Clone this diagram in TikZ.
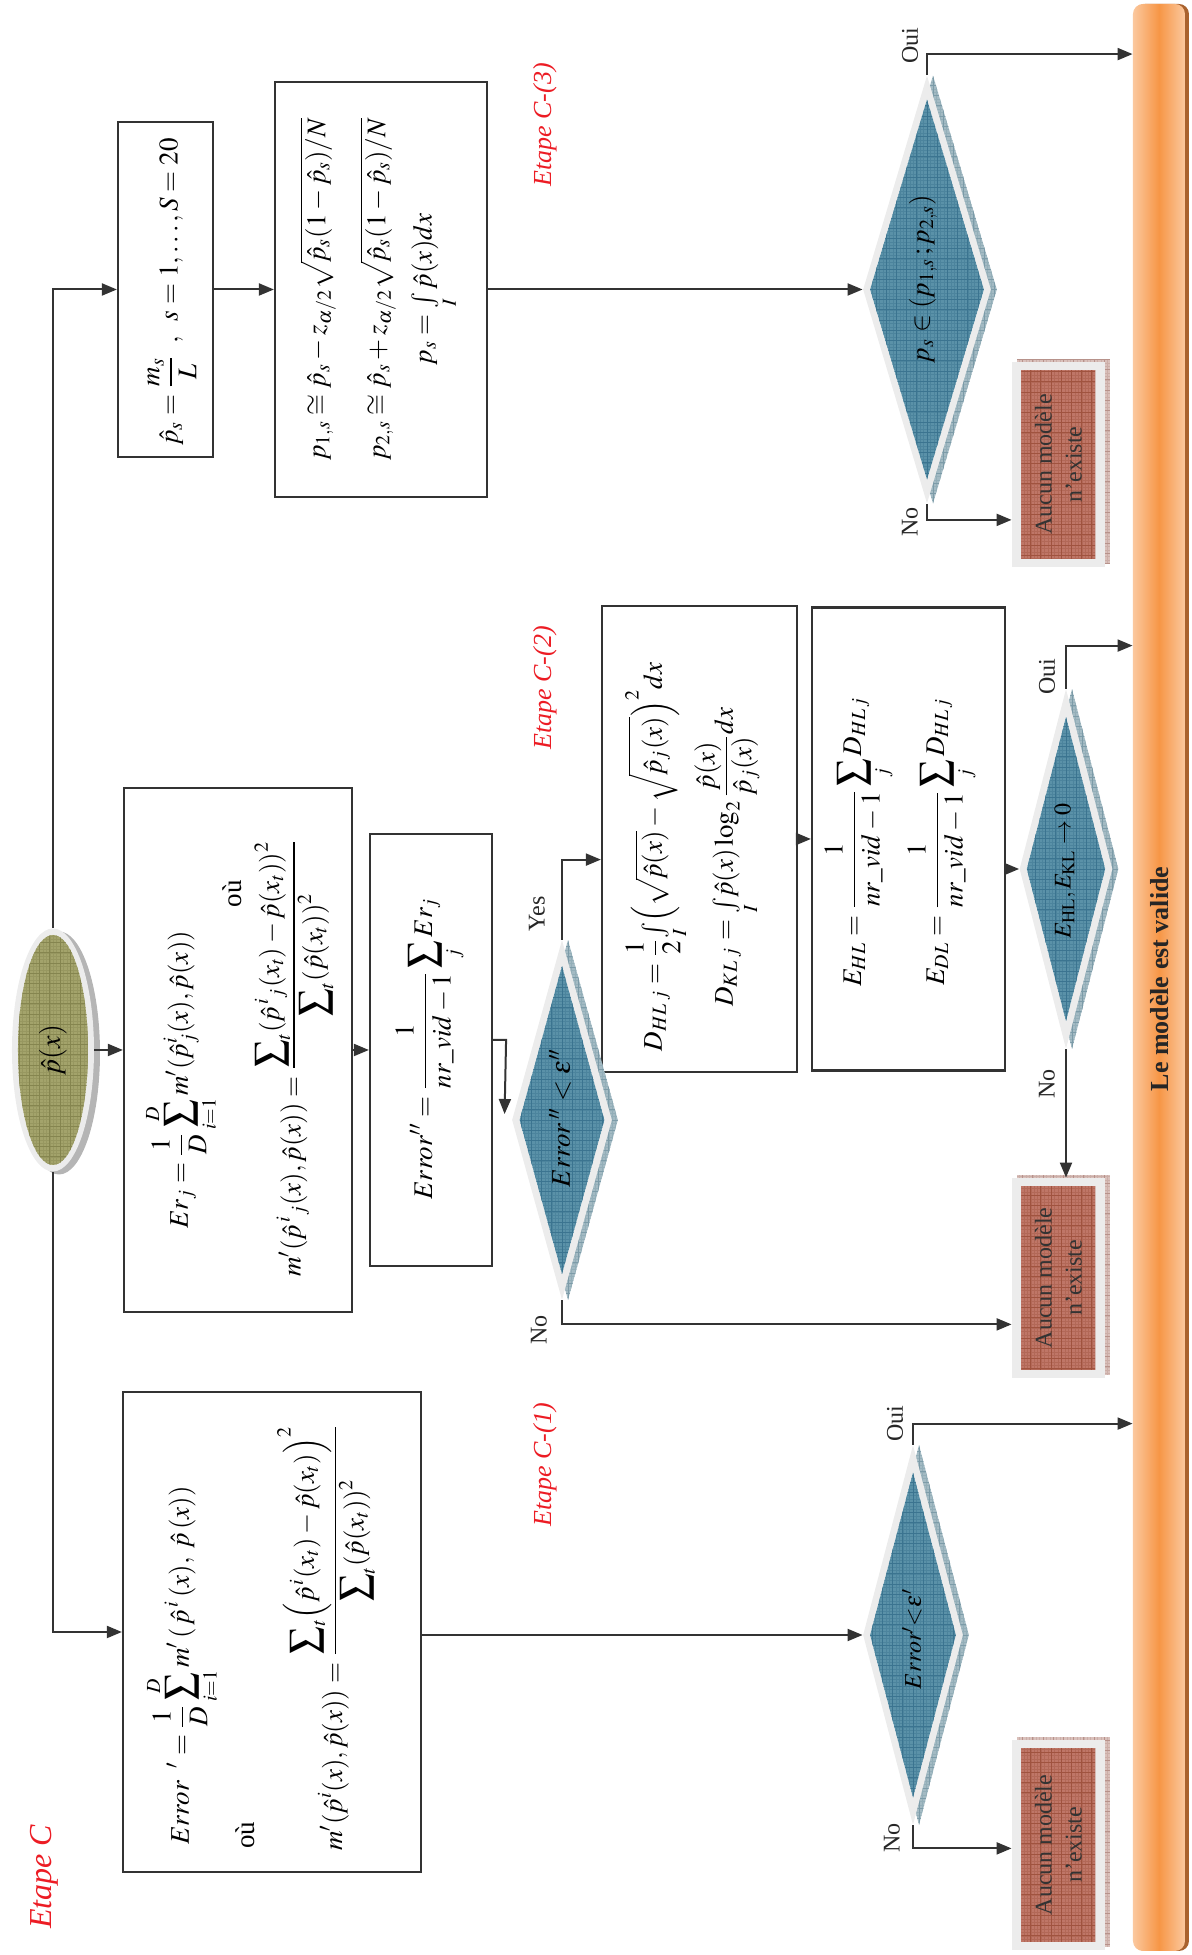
\documentclass[tikz,border=0pt]{standalone}
\usepackage{amsmath}
\usepackage{mathptmx}
\usepackage[no-math]{fontspec}
\setmainfont{Liberation Serif}
\usetikzlibrary{shapes.geometric,arrows.meta,calc}

\definecolor{ink}{HTML}{333333}
\definecolor{rimgray}{HTML}{ECECEC}
\definecolor{diablue}{HTML}{5A91A8}
\definecolor{diagrid}{HTML}{3B7490}
\definecolor{diashade}{HTML}{A3BAC3}
\definecolor{diashadeline}{HTML}{7C9BA8}
\definecolor{boxred}{HTML}{BF7667}
\definecolor{redgrid}{HTML}{A0533F}
\definecolor{redshade}{HTML}{D9C0BB}
\definecolor{redshadeline}{HTML}{B7928B}
\definecolor{olivefill}{HTML}{A3A36B}
\definecolor{olivegrid}{HTML}{85854F}
\definecolor{ellshadow}{HTML}{B5B5B5}
\definecolor{barorange}{HTML}{F79646}
\definecolor{barlight}{HTML}{FBC89E}
\definecolor{barbrown}{HTML}{A9622E}
\definecolor{etred}{HTML}{EC1C24}

% textured fill: fine grid under a coarser grid
\newcommand\hatchgrid[2]{%
  \draw[#2,line width=0.2pt] (path picture bounding box.south west) grid[step=1.7pt] (path picture bounding box.north east);
  \draw[#1,line width=0.45pt] (path picture bounding box.south west) grid[step=5.1pt] (path picture bounding box.north east);}

\tikzset{
  conn/.style={draw=ink,line width=1pt},
  arr/.style={conn,-{Triangle[length=7.5pt,width=6pt]}},
  formbox/.style={rectangle,draw=ink,line width=1.1pt,fill=white,inner sep=0pt},
  eq/.style={inner sep=0pt,font=\fontsize{13.5}{16}\selectfont},
  ans/.style={inner sep=0pt,text=black!85,font=\fontsize{12}{14}\selectfont},
  etape/.style={inner sep=0pt,text=etred,font=\fontsize{13}{16}\selectfont\itshape},
  rim/.style={fill=rimgray,draw=none,inner sep=0pt},
  dshadow/.style={diamond,fill=diashade,inner sep=0pt,path picture={\hatchgrid{diashadeline}{diashadeline!40!diashade}}},
  dcore/.style={diamond,fill=diablue,inner sep=0pt,path picture={\hatchgrid{diagrid}{diagrid!45!diablue}}},
  rshadow/.style={rectangle,fill=redshade,inner sep=0pt,path picture={\hatchgrid{redshadeline}{redshadeline!40!redshade}}},
  rcore/.style={rectangle,fill=boxred,inner sep=0pt,align=center,text=black!80,
    font=\fontsize{12}{15}\selectfont,path picture={\hatchgrid{redgrid}{redgrid!40!boxred}}},
}

\begin{document}
\begin{tikzpicture}[x=0.5pt,y=0.5pt]
\useasboundingbox (-1192,0) rectangle (0,1955);

% validation bar
\node[fill=barbrown,rounded corners=5pt,inner sep=0pt,minimum width=27pt,minimum height=973.5pt] (barback) at (-30,977.5) {};
\node[rounded corners=5pt,inner sep=0pt,left color=barlight,right color=barlight,middle color=barorange,
  minimum width=26pt,minimum height=973.5pt] (bar) at (-33,977.5) {};
\node[rotate=90,inner sep=0pt,text=black!85,font=\bfseries\fontsize{13}{15}\selectfont] (valid) at (-32,976) {Le modèle est valide};

\begin{scope}[rotate=90,transform shape]

% start node
\node[ellipse,fill=ellshadow,inner sep=0pt,minimum width=121.5pt,minimum height=41pt] (ellsh) at (902,1133) {};
\node[ellipse,rim,minimum width=121.5pt,minimum height=41pt] (ell) at (905,1139) {};
\node[ellipse,fill=olivefill,inner sep=0pt,minimum width=115pt,minimum height=35pt,
  path picture={\hatchgrid{olivegrid}{olivegrid!40!olivefill}},font=\fontsize{14}{16}\selectfont] (ellt) at (ell) {$\hat{p}(x)$};

% formula boxes
\node[formbox,minimum width=167.5pt,minimum height=47.5pt] (ps) at (1665.5,1026.5) {};
\node[formbox,minimum width=207.5pt,minimum height=106pt] (p1) at (1665.5,811) {};
\node[formbox,minimum width=240pt,minimum height=149pt] (c1) at (323,920) {};
\node[formbox,minimum width=262pt,minimum height=114pt] (erj) at (905,954) {};
\node[formbox,minimum width=216pt,minimum height=61pt] (err2) at (905,761) {};
\node[formbox,minimum width=233pt,minimum height=97.5pt] (dhl) at (1116,492.5) {};
\node[formbox,minimum width=231.5pt,minimum height=96.5pt] (ehl) at (1116,283.5) {};

\node[eq] (pst) at (1663,1020) {$\hat{p}_s=\dfrac{m_s}{L}\;\;,\;\;s=1,\ldots,S=20$};
\node[eq] (p1a) at (1665.5,874) {$p_{1,s}\cong\hat{p}_s-z_{\alpha/2}\sqrt{\hat{p}_s(1-\hat{p}_s)/N}$};
\node[eq] (p1b) at (1665.5,814) {$p_{2,s}\cong\hat{p}_s+z_{\alpha/2}\sqrt{\hat{p}_s(1-\hat{p}_s)/N}$};
\node[eq] (p1c) at (1665.5,757) {$p_s=\int\limits_{I}\hat{p}(x)dx$};

\node[eq,anchor=west] (c1a) at (110,1010) {$\displaystyle Error\;\;{}'=\frac{1}{D}\sum_{i=1}^{D}m'\,(\,\hat{p}^{\,i}\,(x),\;\hat{p}\,(x))$};
\node[eq,anchor=west] (c1b) at (106,947) {où};
\node[eq,anchor=west] (c1c) at (104,866) {$\displaystyle m'(\hat{p}^{i}(x),\hat{p}(x))=\frac{\displaystyle\sum\nolimits_t\Bigl(\hat{p}^{\,i}(x_t)-\hat{p}(x_t)\Bigr)^2}{\displaystyle\sum\nolimits_t(\hat{p}(x_t))^2}$};

\node[eq] (erja) at (875,1011) {$\displaystyle Er_j=\frac{1}{D}\sum_{i=1}^{D}m'(\hat{p}^{i}_{j}(x),\hat{p}(x))$};
\node[eq] (erjb) at (1061,960) {où};
\node[eq] (erjc) at (897,898) {$\displaystyle m'(\hat{p}^{\,i}{}_{j}(x),\hat{p}(x))=\frac{\displaystyle\sum\nolimits_t(\hat{p}^{\,i}{}_{j}(x_t)-\hat{p}(x_t))^2}{\displaystyle\sum\nolimits_t(\hat{p}(x_t))^2}$};

\node[eq] (err2t) at (906,761) {$\displaystyle Error''=\frac{1}{nr\_vid-1}\sum_{j}Er_j$};

\node[eq] (dhla) at (1098,535) {$\displaystyle D_{HL\;j}=\frac{1}{2}{\textstyle\int\limits_I}\Bigl(\sqrt{\hat{p}(x)}-\sqrt{\hat{p}_j(x)}\Bigr)^{2}dx$};
\node[eq] (dhlb) at (1098,465) {$\displaystyle D_{KL\;j}={\textstyle\int\limits_I}\hat{p}(x)\log_2\frac{\hat{p}(x)}{\hat{p}_j(x)}dx$};

\node[eq] (ehla) at (1113,332) {$\displaystyle E_{HL}=\frac{1}{nr\_vid-1}\sum_{j}D_{HL\,j}$};
\node[eq] (ehlb) at (1113,249) {$\displaystyle E_{DL}=\frac{1}{nr\_vid-1}\sum_{j}D_{HL\,j}$};

% decisions: hatched shadow, light rim, textured core, condition
\node[dshadow,minimum width=214pt,minimum height=64pt] (d1sh) at (1665.5,259) {};
\node[diamond,rim,minimum width=214pt,minimum height=64pt] (d1) at (1665.5,265) {};
\node[dcore,minimum width=190pt,minimum height=57pt] (d1in) at (d1) {};
\node[eq] (d1t) at (1676,269) {$p_s\in(p_{1,s}\,;p_{2,s})$};

\node[dshadow,minimum width=180pt,minimum height=50pt] (d2sh) at (835,624) {};
\node[diamond,rim,minimum width=180pt,minimum height=50pt] (d2) at (835,630) {};
\node[dcore,minimum width=154pt,minimum height=42.5pt] (d2in) at (d2) {};
\node[eq] (d2t) at (837,632) {$Error\,''<\varepsilon''$};

\node[dshadow,minimum width=180pt,minimum height=46.5pt] (d3sh) at (1086,120) {};
\node[diamond,rim,minimum width=180pt,minimum height=46.5pt] (d3) at (1086,126) {};
\node[dcore,minimum width=152pt,minimum height=39.3pt] (d3in) at (d3) {};
\node[eq,font=\fontsize{12}{14}\selectfont] (d3t) at (1084,127) {$E_{\mathrm{HL}},E_{\mathrm{KL}}\rightarrow 0$};

\node[dshadow,minimum width=190pt,minimum height=50pt] (d4sh) at (320,273) {};
\node[diamond,rim,minimum width=190pt,minimum height=50pt] (d4) at (320,279) {};
\node[dcore,minimum width=162.5pt,minimum height=43pt] (d4in) at (d4) {};
\node[eq,font=\fontsize{12}{14}\selectfont] (d4t) at (316,280) {$Error'{<}\varepsilon'$};

% rejection boxes
\node[rshadow,minimum width=102.5pt,minimum height=46.5pt] (rb1sh) at (1493.5,128.5) {};
\node[rectangle,rim,minimum width=102.5pt,minimum height=46.5pt] (rb1) at (1490.5,133.5) {};
\node[rcore,minimum width=94.5pt,minimum height=37pt] (rb1t) at (rb1) {Aucun modèle\\n’existe};

\node[rshadow,minimum width=100pt,minimum height=46.5pt] (rb2sh) at (680,128.5) {};
\node[rectangle,rim,minimum width=100pt,minimum height=46.5pt] (rb2) at (677,133.5) {};
\node[rcore,minimum width=92pt,minimum height=37pt] (rb2t) at (rb2) {Aucun modèle\\n’existe};

\node[rshadow,minimum width=105pt,minimum height=46.5pt] (rb3sh) at (113,128.5) {};
\node[rectangle,rim,minimum width=105pt,minimum height=46.5pt] (rb3) at (110,133.5) {};
\node[rcore,minimum width=97pt,minimum height=37pt] (rb3t) at (rb3) {Aucun modèle\\n’existe};

% stage labels
\node[etape,font=\fontsize{16}{18}\selectfont\itshape] (etC) at (78,1148) {Etape C};
\node[etape] (etC1) at (490,647) {Etape C-(1)};
\node[etape] (etC2) at (1267,647) {Etape C-(2)};
\node[etape] (etC3) at (1830,647) {Etape C-(3)};

% connectors
\draw[arr] (ell.west) -- (c1.north |- ell.west) -- (c1.north);
\draw[arr] (ell.east) -- (ps.north |- ell.east) -- (ps.north);
\draw[arr] (ell.south) -- (erj.north);
\draw[arr] (ps.south) -- (p1.north);
\draw[arr] (p1.south) -- (d1.north);

\coordinate (o1) at ($(d1.east)+(21,0)$);
\draw[arr] (d1.east) -- (o1) -- (o1 |- bar.west);
\coordinate (n1) at ($(d1.west)+(-16,0)$);
\draw[arr] (d1.west) -- (n1) -- (n1 |- rb1.north);

\draw[arr] (erj.south) -- (err2.north);
\coordinate (e1) at ($(err2.south)+(10,0)$);
\coordinate (e2) at ($(e1)+(0,-13)$);
\coordinate (e3) at ($(d2.north)+(6,7)$);
\draw[arr] (e1) -- (e2) -- (e3);

\coordinate (y1) at ($(d2.east)+(80,0)$);
\draw[arr] (d2.east) -- (y1) -- (y1 |- dhl.north);
\coordinate (n2) at ($(d2.west)+(-24,0)$);
\draw[arr] (d2.west) -- (n2) -- (n2 |- rb2.north);

\draw[arr] (dhl.south) -- (ehl.north);
\draw[arr] (d3.north |- ehl.south) -- (d3.north);
\coordinate (o3) at ($(d3.east)+(43,0)$);
\draw[arr] (d3.east) -- (o3) -- (o3 |- bar.west);
\draw[arr] (d3.west) -- (rb2.east |- d3.west);

\draw[arr] (d4.north |- c1.south) -- (d4.north);
\coordinate (o4) at ($(d4.east)+(21,0)$);
\draw[arr] (d4.east) -- (o4) -- (o4 |- bar.west);
\coordinate (n4) at ($(d4.west)+(-23,0)$);
\draw[arr] (d4.west) -- (n4) -- (n4 |- rb3.north);

% branch labels
\node[ans] (l1o) at (1909,282) {Oui};
\node[ans] (l1n) at (1433,282) {No};
\node[ans] (l2y) at (1041,655) {Yes};
\node[ans] (l2n) at (625,653) {No};
\node[ans] (l3o) at (1278,145) {Oui};
\node[ans] (l3n) at (871,145) {No};
\node[ans] (l4o) at (531,297) {Oui};
\node[ans] (l4n) at (117,300) {No};

\end{scope}
\end{tikzpicture}
\end{document}
